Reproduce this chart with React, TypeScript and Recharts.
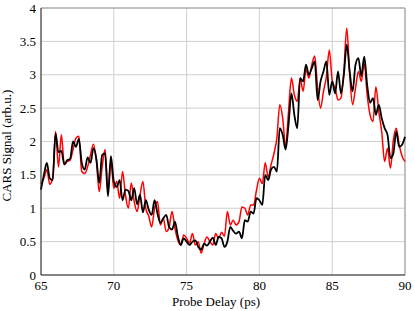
import React from 'react';
import {
  LineChart, Line, XAxis, YAxis, CartesianGrid, ReferenceLine, Label
} from 'recharts';

// probe delay (ps), 0.2 ps sampling
const delay = [
  65.0, 65.2, 65.4, 65.6, 65.8, 66.0, 66.2, 66.4, 66.6, 66.8,
  67.0, 67.2, 67.4, 67.6, 67.8, 68.0, 68.2, 68.4, 68.6, 68.8,
  69.0, 69.2, 69.4, 69.6, 69.8, 70.0, 70.2, 70.4, 70.6, 70.8,
  71.0, 71.2, 71.4, 71.6, 71.8, 72.0, 72.2, 72.4, 72.6, 72.8,
  73.0, 73.2, 73.4, 73.6, 73.8, 74.0, 74.2, 74.4, 74.6, 74.8,
  75.0, 75.2, 75.4, 75.6, 75.8, 76.0, 76.2, 76.4, 76.6, 76.8,
  77.0, 77.2, 77.4, 77.6, 77.8, 78.0, 78.2, 78.4, 78.6, 78.8,
  79.0, 79.2, 79.4, 79.6, 79.8, 80.0, 80.2, 80.4, 80.6, 80.8,
  81.0, 81.2, 81.4, 81.6, 81.8, 82.0, 82.2, 82.4, 82.6, 82.8,
  83.0, 83.2, 83.4, 83.6, 83.8, 84.0, 84.2, 84.4, 84.6, 84.8,
  85.0, 85.2, 85.4, 85.6, 85.8, 86.0, 86.2, 86.4, 86.6, 86.8,
  87.0, 87.2, 87.4, 87.6, 87.8, 88.0, 88.2, 88.4, 88.6, 88.8,
  89.0, 89.2, 89.4, 89.6, 89.8, 90.0,
];

// red trace
const redSignal = [
  1.37, 1.45, 1.58, 1.36, 1.45, 2.15, 1.62, 2.10, 1.65, 1.70,
  1.72, 1.88, 2.05, 2.08, 1.55, 1.52, 1.62, 1.80, 1.96, 1.72,
  1.25, 1.62, 1.88, 1.25, 1.70, 1.30, 1.40, 1.15, 1.55, 1.20,
  1.00, 1.38, 1.10, 0.95, 1.20, 1.40, 1.00, 0.88, 0.72, 1.00,
  1.10, 0.75, 0.85, 0.65, 0.72, 0.95, 0.70, 0.52, 0.45, 0.60,
  0.55, 0.48, 0.62, 0.45, 0.50, 0.33, 0.47, 0.57, 0.50, 0.45,
  0.62, 0.55, 0.64, 0.58, 0.95, 0.75, 0.82, 0.75, 0.80, 1.02,
  1.00, 0.90, 1.05, 1.05, 1.27, 1.45, 1.37, 1.68, 1.47, 1.65,
  1.82, 2.05, 2.55, 2.35, 1.92, 2.45, 2.95, 2.70, 2.60, 2.95,
  2.75, 3.08, 2.95, 3.15, 3.28, 2.80, 2.50, 2.75, 2.97, 3.37,
  2.92, 2.80, 2.62, 2.65, 3.05, 3.70, 3.00, 2.55, 2.80, 3.05,
  2.90, 3.17, 2.70, 2.40, 2.30, 2.82, 2.45, 2.15, 1.70, 1.90,
  1.60, 2.02, 2.20, 1.95, 1.78, 1.70,
];

// black trace
const blackSignal = [
  1.28, 1.50, 1.68, 1.45, 1.42, 2.12, 1.84, 1.86, 1.66, 1.72,
  1.74, 2.00, 1.92, 2.04, 1.68, 1.58, 1.76, 1.68, 1.90, 1.74,
  1.38, 1.80, 1.82, 1.18, 1.78, 1.40, 1.32, 1.42, 1.12, 1.28,
  1.26, 1.12, 1.30, 1.06, 1.20, 0.94, 1.12, 0.98, 0.90, 1.12,
  0.92, 0.78, 0.85, 0.90, 0.72, 0.68, 0.80, 0.58, 0.45, 0.55,
  0.50, 0.45, 0.50, 0.52, 0.42, 0.38, 0.47, 0.44, 0.50, 0.56,
  0.45, 0.57, 0.55, 0.42, 0.50, 0.72, 0.66, 0.62, 0.65, 0.55,
  0.82, 0.80, 0.95, 0.92, 1.15, 1.12, 1.05, 1.50, 1.42, 1.58,
  1.62, 1.55, 2.20, 2.10, 1.88, 2.25, 2.72, 2.40, 2.20, 2.95,
  2.90, 3.15, 3.00, 3.10, 3.20, 2.62, 2.90, 3.05, 3.20, 2.70,
  2.90, 2.72, 3.05, 2.72, 3.00, 3.45, 3.05, 2.75, 3.15, 3.25,
  2.98, 3.27, 2.85, 2.58, 2.65, 2.40, 2.55, 2.35, 2.20, 2.10,
  1.75, 1.82, 2.15, 1.92, 1.95, 2.07,
];

const xTicks = [65, 70, 75, 80, 85, 90];
const yTicks = [0, 0.5, 1, 1.5, 2, 2.5, 3, 3.5, 4];

const data = delay.map((t, i) => ({ t, red: redSignal[i], black: blackSignal[i] }));

const FONT = 'Liberation Serif, Times New Roman, serif';
const tickStyle = { fontSize: 13, fill: '#000', fontFamily: FONT };

export default function App() {
  return (
    <div style={{ position: 'absolute', left: 0, top: 0, width: 415, height: 311, background: '#fff', fontFamily: FONT }}>
      <LineChart width={415} height={311} data={data} margin={{ top: 8, right: 10, left: 0, bottom: 0 }}
        style={{ fontFamily: FONT }}>
        <CartesianGrid stroke="#cfcfcf" strokeWidth={1} horizontalValues={yTicks} verticalValues={xTicks} />
        <XAxis
          dataKey="t" type="number" domain={[65, 90]} ticks={xTicks}
          height={36} tickSize={0} tickMargin={6}
          tick={tickStyle} axisLine={{ stroke: '#222' }} tickLine={false}
        >
          <Label value="Probe Delay (ps)" position="insideBottom" offset={5} dx={-7}
            fontFamily={FONT} fontSize={13} fill="#000" />
        </XAxis>
        <YAxis
          type="number" domain={[0, 4]} ticks={yTicks}
          width={41} tickSize={0} tickMargin={5}
          tick={tickStyle} axisLine={{ stroke: '#222' }} tickLine={false}
        >
          <Label value="CARS Signal (arb.u.)" angle={-90} position="insideLeft" offset={6} dy={60}
            fontFamily={FONT} fontSize={13} fill="#000" />
        </YAxis>
        <ReferenceLine y={4} stroke="#999" />
        <ReferenceLine x={90} stroke="#999" />
        <Line type="monotone" dataKey="red" stroke="#ff0000" strokeWidth={1.5} dot={false} isAnimationActive={false} />
        <Line type="monotone" dataKey="black" stroke="#000" strokeWidth={1.8} dot={false} isAnimationActive={false} />
      </LineChart>
    </div>
  );
}
